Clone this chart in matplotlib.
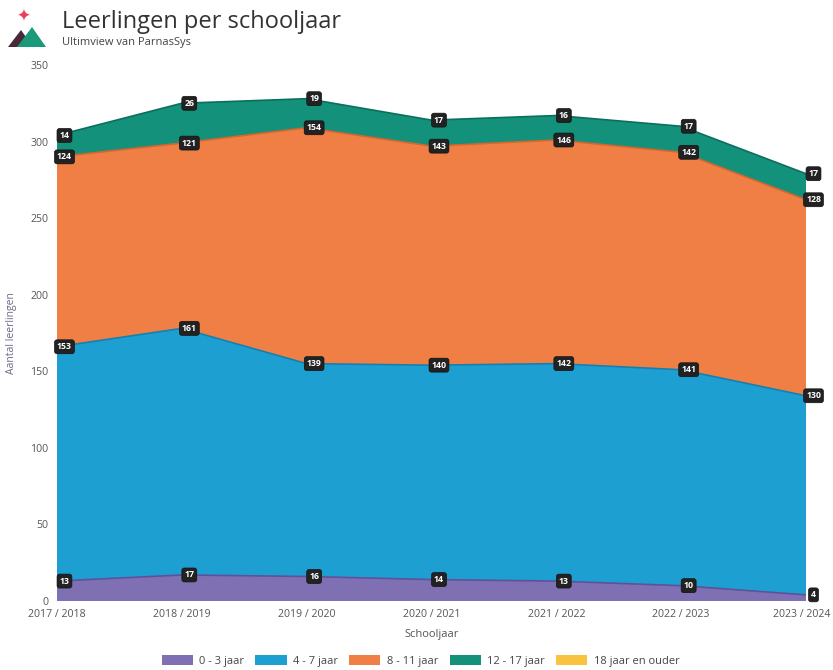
import numpy as np
import matplotlib
matplotlib.use("Agg")
import matplotlib.pyplot as plt
from matplotlib.patches import Polygon
from matplotlib.transforms import ScaledTranslation

plt.rcParams['font.family'] = ['Open Sans', 'DejaVu Sans']

# data
jaren = ["2017 / 2018", "2018 / 2019", "2019 / 2020", "2020 / 2021",
         "2021 / 2022", "2022 / 2023", "2023 / 2024"]
jaar_0_3 = [13, 17, 16, 14, 13, 10, 4]
jaar_4_7 = [153, 161, 139, 140, 142, 141, 130]
jaar_8_11 = [124, 121, 154, 143, 146, 142, 128]
jaar_12_17 = [14, 26, 19, 17, 16, 17, 17]
jaar_18_plus = [0, 0, 0, 0, 0, 0, 0]

groepen = ["0 - 3 jaar", "4 - 7 jaar", "8 - 11 jaar", "12 - 17 jaar", "18 jaar en ouder"]
kleuren = ["#7e70b3", "#1d9fd2", "#f07f45", "#13917b", "#f8c33f"]
randen = ["#5e519a", "#1580b0", "#d7652d", "#0b6f5c", "#d9a31f"]

series = [jaar_0_3, jaar_4_7, jaar_8_11, jaar_12_17, jaar_18_plus]

W, H = 833, 670
fig = plt.figure(figsize=(W / 100, H / 100), dpi=100)
ax = fig.add_axes([0.0684, 0.103, 0.8992, 0.8])

x = np.arange(len(jaren))
ax.stackplot(x, *series, colors=kleuren, labels=groepen, linewidth=0)

cum = np.cumsum(np.array(series), axis=0)
for i in range(4):
    ax.plot(x, cum[i], color=randen[i], lw=1.2)
    for xi, (top, val) in enumerate(zip(cum[i], series[i])):
        ax.text(xi + 0.06, top, str(val), ha='center', va='center', fontsize=6.3,
                fontweight='bold', color='white', zorder=5, clip_on=False,
                bbox=dict(boxstyle='round,pad=0.28', fc='#222222', ec='#111111', lw=0.5))

ax.set_xlim(0, len(jaren) - 1)
ax.set_ylim(0, 350)
ax.set_yticks(range(0, 351, 50))
ax.set_xticks(x)
ax.set_xticklabels(jaren)
ax.tick_params(axis='both', length=0, labelsize=7.6, colors='#555555', pad=6)
# keep the last year label inside the picture
last = ax.get_xticklabels()[-1]
last.set_transform(last.get_transform() + ScaledTranslation(-4 / 100, 0, fig.dpi_scale_trans))
for s in ax.spines.values():
    s.set_visible(False)
ax.set_xlabel("Schooljaar", fontsize=8, color='#555555', labelpad=6)
ax.set_ylabel("Aantal leerlingen", fontsize=7.5, color='#6a6a8a', labelpad=10)

handles, labels = ax.get_legend_handles_labels()
fig.legend(handles, labels, loc='lower center', ncol=5, bbox_to_anchor=(0.505, -0.01),
           frameon=False, fontsize=8, handlelength=2.8, handleheight=1.1,
           columnspacing=1.0, handletextpad=0.6, labelcolor='#444444')

# logo (pixel coordinates from the top-left)
def px(pts):
    return [[a, H - b] for a, b in pts]

fig.patches.append(Polygon(px([[8, 47], [21, 30], [33, 47]]), closed=True, transform=None,
                           fc='#4a2a3a', figure=fig))
fig.patches.append(Polygon(px([[17, 47], [32, 27], [46, 47]]), closed=True, transform=None,
                           fc='#1a9a78', figure=fig))
fig.text(23 / W, 1 - 17 / H, "\u2726", fontsize=12, color='#e8405f',
         ha='center', va='center', family='DejaVu Sans')

fig.text(62 / W, 1 - 22 / H, "Leerlingen per schooljaar", fontsize=17,
         color='#333333', va='center', ha='left')
fig.text(62 / W, 1 - 43 / H, "Ultimview van ParnasSys", fontsize=8,
         color='#444444', va='center', ha='left')

fig.savefig("out.png", dpi=100)
